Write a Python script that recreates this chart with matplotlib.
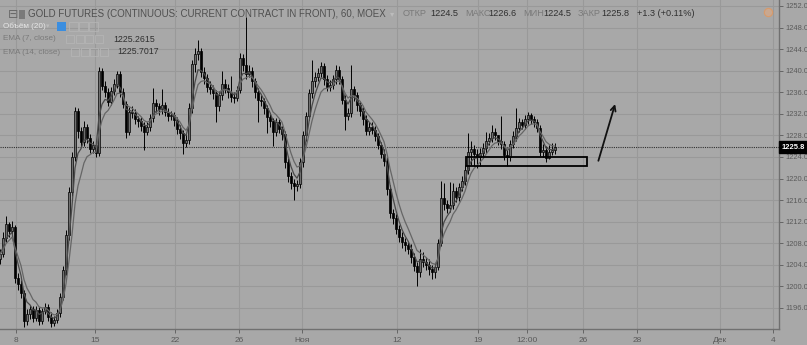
import matplotlib
matplotlib.use('Agg')

import matplotlib.pyplot as plt
import numpy as np
import pandas as pd
from matplotlib.patches import Rectangle

# hourly gold futures, resampled to ~3 hour bars
first_open = 1205.0
closes = [
    1206.0, 1209.0, 1211.5, 1210.2, 1211.0, 1201.5, 1200.5, 1198.8, 1193.5, 1194.8,
    1195.8, 1194.2, 1195.6, 1193.6, 1195.4, 1196.2, 1194.4, 1193.2, 1193.8, 1195.0,
    1198.0, 1203.0, 1209.5, 1217.5, 1224.0, 1232.5, 1228.8, 1226.8, 1229.5, 1227.5,
    1225.5, 1226.2, 1224.8, 1240.0, 1237.2, 1236.0, 1234.2, 1236.2, 1237.6, 1239.4,
    1236.0, 1233.8, 1228.6, 1232.4, 1232.2, 1231.0, 1230.6, 1229.8, 1228.6, 1229.6,
    1231.2, 1234.0, 1233.4, 1232.8, 1233.6, 1232.4, 1231.6, 1231.8, 1230.8, 1229.2,
    1228.4, 1226.6, 1227.2, 1233.0, 1241.2, 1243.0, 1243.6, 1239.8, 1238.6, 1237.0,
    1236.6, 1235.8, 1233.4, 1235.4, 1237.6, 1236.8, 1236.0, 1235.2, 1235.0, 1236.4,
    1242.4, 1241.0, 1239.4, 1240.0, 1238.0, 1236.0, 1234.6, 1234.4, 1233.0, 1231.4,
    1230.6, 1228.6, 1230.4, 1229.2, 1228.2, 1223.0, 1220.4, 1219.2, 1218.6, 1219.0,
    1223.0, 1228.0, 1231.6, 1235.8, 1238.0, 1238.8, 1239.6, 1240.8, 1238.4, 1237.0,
    1237.4, 1238.4, 1240.2, 1238.4, 1234.6, 1231.6, 1232.2, 1236.6, 1235.4, 1233.6,
    1232.6, 1231.0, 1228.8, 1229.6, 1229.0, 1227.8, 1226.2, 1224.6, 1223.2, 1218.0,
    1213.6, 1212.6, 1210.6, 1209.2, 1208.2, 1207.6, 1207.0, 1205.4, 1203.8, 1202.6,
    1205.0, 1204.6, 1204.0, 1203.2, 1202.6, 1203.6, 1208.0, 1216.4, 1215.2, 1214.6,
    1215.0, 1217.6, 1216.6, 1218.4, 1219.6, 1221.6, 1225.0, 1225.4, 1224.6, 1224.0,
    1224.8, 1225.6, 1227.0, 1227.6, 1228.6, 1228.0, 1227.0, 1226.4, 1224.4, 1224.0,
    1226.4, 1227.8, 1229.4, 1230.4, 1230.0, 1231.0, 1231.8, 1231.0, 1230.4, 1229.4,
    1225.0, 1225.2, 1223.8, 1225.0, 1225.2, 1225.8,
]
highs = [
    1207.0, 1210.0, 1213.0, 1212.0, 1212.2, 1211.4, 1202.4, 1201.2, 1199.4, 1195.8,
    1196.6, 1196.4, 1196.4, 1196.2, 1196.0, 1197.0, 1196.8, 1195.2, 1194.6, 1195.8,
    1198.8, 1203.8, 1210.4, 1218.4, 1225.0, 1233.3, 1233.0, 1229.6, 1230.6, 1230.2,
    1228.2, 1227.0, 1227.0, 1240.7, 1240.4, 1238.0, 1236.8, 1237.0, 1238.4, 1240.0,
    1240.0, 1236.8, 1234.4, 1233.2, 1233.4, 1232.8, 1231.6, 1231.4, 1230.4, 1230.4,
    1232.0, 1236.8, 1234.8, 1234.0, 1236.6, 1234.2, 1233.0, 1232.6, 1232.4, 1231.4,
    1230.0, 1229.0, 1228.4, 1234.0, 1242.0, 1244.2, 1245.7, 1244.2, 1240.6, 1239.4,
    1238.0, 1237.4, 1236.4, 1236.2, 1240.0, 1238.4, 1237.6, 1239.0, 1236.0, 1237.2,
    1243.2, 1243.0, 1250.0, 1241.0, 1240.6, 1238.6, 1236.8, 1235.4, 1235.0, 1233.6,
    1232.0, 1231.2, 1231.2, 1231.0, 1229.8, 1228.8, 1223.8, 1221.2, 1220.0, 1219.8,
    1223.8, 1228.8, 1232.4, 1236.6, 1242.0, 1239.8, 1240.4, 1241.6, 1241.4, 1239.2,
    1238.2, 1239.2, 1241.0, 1240.8, 1239.0, 1235.4, 1233.0, 1241.0, 1237.2, 1236.0,
    1234.4, 1233.2, 1231.8, 1230.4, 1230.4, 1229.8, 1228.4, 1226.8, 1225.4, 1224.0,
    1218.8, 1214.4, 1213.4, 1211.4, 1210.0, 1209.0, 1208.4, 1207.8, 1206.2, 1204.6,
    1207.0, 1206.4, 1205.4, 1205.0, 1204.0, 1204.4, 1208.8, 1219.6, 1219.2, 1216.0,
    1219.4, 1219.2, 1218.4, 1219.2, 1220.4, 1222.6, 1228.5, 1227.0, 1226.2, 1225.4,
    1225.6, 1226.6, 1228.6, 1228.4, 1230.0, 1229.4, 1228.0, 1231.5, 1227.0, 1225.2,
    1227.2, 1228.8, 1233.0, 1231.2, 1231.0, 1231.8, 1232.4, 1232.2, 1231.6, 1231.0,
    1230.0, 1226.4, 1226.0, 1226.2, 1226.6, 1226.6,
]
lows = [
    1204.2, 1205.4, 1208.2, 1209.2, 1209.4, 1200.6, 1199.4, 1197.8, 1192.5, 1192.8,
    1194.0, 1193.4, 1193.6, 1192.8, 1193.0, 1194.8, 1193.6, 1192.4, 1192.6, 1193.2,
    1194.4, 1197.4, 1202.2, 1208.6, 1216.8, 1223.2, 1227.6, 1225.8, 1226.0, 1226.6,
    1224.8, 1224.8, 1224.0, 1224.2, 1236.4, 1235.2, 1233.4, 1233.6, 1235.4, 1236.8,
    1235.2, 1233.0, 1227.6, 1228.0, 1231.2, 1230.2, 1229.6, 1228.8, 1225.3, 1228.0,
    1228.8, 1230.4, 1232.4, 1231.8, 1232.0, 1231.6, 1230.6, 1230.8, 1229.8, 1228.2,
    1227.4, 1224.5, 1225.8, 1226.4, 1232.2, 1239.8, 1242.0, 1238.8, 1237.6, 1236.0,
    1235.6, 1234.8, 1230.5, 1232.6, 1234.6, 1235.8, 1235.0, 1234.2, 1234.0, 1234.4,
    1235.8, 1240.0, 1238.4, 1238.8, 1237.0, 1235.0, 1230.5, 1233.4, 1232.0, 1228.5,
    1229.6, 1226.0, 1227.8, 1228.4, 1227.2, 1222.0, 1219.4, 1218.0, 1216.0, 1217.6,
    1218.2, 1222.2, 1227.0, 1230.8, 1235.0, 1237.0, 1238.0, 1238.8, 1237.4, 1236.2,
    1236.2, 1236.6, 1237.6, 1237.6, 1233.8, 1229.0, 1230.8, 1231.4, 1234.4, 1232.6,
    1231.6, 1230.0, 1228.0, 1228.0, 1228.2, 1227.0, 1225.4, 1223.8, 1222.4, 1217.0,
    1212.6, 1211.6, 1209.8, 1208.2, 1207.2, 1206.6, 1206.0, 1204.4, 1202.8, 1200.0,
    1201.8, 1203.6, 1203.0, 1202.2, 1201.4, 1201.6, 1203.0, 1207.4, 1214.2, 1213.6,
    1213.8, 1214.4, 1215.6, 1215.8, 1217.6, 1218.8, 1220.8, 1222.6, 1222.4, 1222.0,
    1222.4, 1223.8, 1224.8, 1226.2, 1226.8, 1227.2, 1226.2, 1225.4, 1223.4, 1222.4,
    1223.2, 1225.6, 1227.0, 1228.6, 1229.2, 1229.2, 1230.2, 1230.2, 1229.6, 1228.6,
    1224.2, 1224.0, 1223.0, 1223.6, 1224.4, 1224.5,
]

date_ticks = ['8', '15', '22', '26', 'Ноя', '12', '19', '12:00', '26', '28', 'Дек', '4']
date_tick_pos = [5.3, 31.7, 58.3, 79.7, 100.7, 132.3, 159.3, 175.7, 194.3, 212.3, 240.0, 257.7]
price_ticks = np.arange(1196, 1253, 4)
last_price = 1225.8
ema7_value = '1225.2615'
ema14_value = '1225.7017'
ohlc_labels = ['ОТКР', 'МАКС', 'МИН', 'ЗАКР']
ohlc_values = ['1224.5', '1226.6', '1224.5', '1225.8']
change_text = '+1.3 (+0.11%)'
zone_bars = (155.3, 195.7)
zone_prices = (1222.3, 1224.0)
arrow_from = (199.2, 1222.8)
arrow_to = (205.3, 1234.3)

plt.rcParams['font.family'] = ['Liberation Sans', 'DejaVu Sans']

bg = '#a8a8a8'
W, H = 807, 345
fig = plt.figure(figsize=(W / 100, H / 100), dpi=100)
fig.patch.set_facecolor(bg)
ax = fig.add_axes([0, 16 / H, 779 / W, 329 / H])
ax.set_facecolor(bg)

c = np.array(closes)
o = np.r_[first_open, c[:-1]]
hi = np.maximum(np.array(highs), np.maximum(o, c))
lo = np.minimum(np.array(lows), np.minimum(o, c))
x = np.arange(len(c))

ax.vlines(x, lo, hi, color='black', lw=0.7, zorder=3)
up = c >= o
body = np.maximum(np.abs(c - o), 0.15)
ax.bar(x[up], body[up], bottom=o[up], width=0.62, color='#707070',
       edgecolor='black', lw=0.5, zorder=4)
ax.bar(x[~up], body[~up], bottom=c[~up], width=0.62, color='black',
       edgecolor='black', lw=0.5, zorder=4)

# bars here are ~3 hours, so the hourly EMA(7)/EMA(14) become shorter spans
ema7 = pd.Series(c).ewm(span=4, adjust=False).mean()
ema14 = pd.Series(c).ewm(span=7, adjust=False).mean()
ax.plot(x, ema7, color='#4a4a4a', lw=0.9, zorder=5)
ax.plot(x, ema14, color='#666666', lw=0.9, zorder=5)

ax.axhline(last_price, color='#303030', lw=0.8, ls=(0, (1, 1)), zorder=2)

ax.add_patch(Rectangle((zone_bars[0], zone_prices[0]), zone_bars[1] - zone_bars[0],
                       zone_prices[1] - zone_prices[0], fill=False,
                       edgecolor='black', lw=1.3, zorder=6))
ax.annotate('', xy=arrow_to, xytext=arrow_from,
            arrowprops=dict(arrowstyle='->', color='#111111', lw=1.3,
                            mutation_scale=9), zorder=6)

ax.set_xlim(0, 779 / 3)
ax.set_ylim(1192.1, 1253.1)
ax.set_xticks(date_tick_pos)
ax.set_xticklabels(date_ticks)
ax.set_yticks(price_ticks)
ax.set_yticklabels([f'{v:.1f}' for v in price_ticks])
ax.yaxis.tick_right()
ax.tick_params(axis='both', colors='#5a5a5a', length=3, width=0.6)
ax.tick_params(axis='y', pad=1.5, labelsize=5.4)
ax.tick_params(axis='x', pad=3, labelsize=6)
ax.grid(True, color='#999999', lw=0.8)
ax.set_axisbelow(True)
for side in ['top', 'left']:
    ax.spines[side].set_visible(False)
for side in ['right', 'bottom']:
    ax.spines[side].set_color('#707070')
    ax.spines[side].set_linewidth(1.0)

# last price tag
ax.text(1.003, (last_price - 1192.1) / (1253.1 - 1192.1), f'{last_price:.1f}',
        transform=ax.transAxes, ha='left', va='center', fontsize=5.4,
        color='white', fontweight='bold', zorder=10, clip_on=False,
        bbox=dict(boxstyle='square,pad=0.3', fc='black', ec='black'))


def ftext(px, py, s, **kw):
    fig.text(px / W, 1 - py / H, s, va='center', **kw)


ftext(8, 14, '⊟', fontsize=9, color='#6a6a6a', family=['DejaVu Sans'])
fig.patches.append(Rectangle((19 / W, 1 - 19 / H), 6 / W, 9 / H, transform=fig.transFigure,
                             fc='#7a7a7a', ec='none'))
ftext(28, 14, 'GOLD FUTURES (CONTINUOUS: CURRENT CONTRACT IN FRONT), 60, MOEX',
      fontsize=7.0, color='#505050')
ftext(390, 14, '▾', fontsize=6, color='#bcbcbc', family=['DejaVu Sans'])

ftext(3, 26, 'Объём (20)', fontsize=5.9, color='#e6e6e6')
ftext(46, 26, '▾', fontsize=5, color='#bcbcbc', family=['DejaVu Sans'])
fig.patches.append(Rectangle((57 / W, 1 - 31 / H), 9 / W, 9 / H, transform=fig.transFigure,
                             fc='#3b8ee0', ec='none'))
for i in range(3):
    fig.patches.append(Rectangle(((69 + 10 * i) / W, 1 - 31 / H), 9 / W, 9 / H,
                                 transform=fig.transFigure, fc='none', ec='#b4b4b4', lw=0.6))

ftext(3, 39, 'EMA (7, close)', fontsize=5.9, color='#7a7a7a')
ftext(113, 39, ema7_value, fontsize=6.3, color='#303030')
ftext(3, 52, 'EMA (14, close)', fontsize=5.9, color='#7a7a7a')
ftext(117, 52, ema14_value, fontsize=6.3, color='#303030')
for row, start in [(39, 66), (52, 71)]:
    for i in range(4):
        fig.patches.append(Rectangle(((start + 9.5 * i) / W, 1 - (row + 4) / H), 8 / W, 8 / H,
                                     transform=fig.transFigure, fc='none', ec='#b4b4b4', lw=0.6))

px_lab = [403, 465, 523, 578]
px_val = [430, 488, 543, 601]
for lab, val, pl, pv in zip(ohlc_labels, ohlc_values, px_lab, px_val):
    ftext(pl, 14, lab, fontsize=6.6, color='#7a7a7a')
    ftext(pv, 14, val, fontsize=6.6, color='#303030')
ftext(637, 14, change_text, fontsize=6.6, color='#303030')

ax.plot([0.986], [0.964], transform=ax.transAxes, marker='o', ms=6, mfc='#c9a890',
        mec='#d89a6a', mew=0.8, clip_on=False, zorder=10)

fig.savefig('out.png', dpi=100, facecolor=bg)
